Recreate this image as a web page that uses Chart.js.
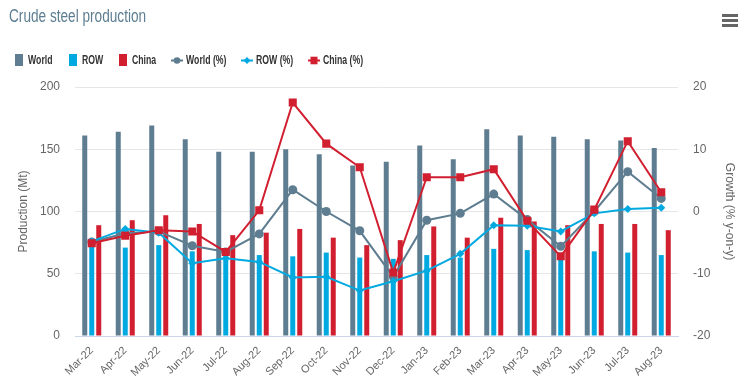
<!DOCTYPE html>
<html><head><meta charset="utf-8">
<script src="https://cdn.jsdelivr.net/npm/chart.js@4.4.0/dist/chart.umd.min.js"></script>
<style>
html,body{margin:0;padding:0;background:#fff;}
#wrap{position:relative;width:752px;height:383px;overflow:hidden;}
#title{position:absolute;left:8.5px;top:7px;line-height:18px;font-size:18px;font-family:"Liberation Sans",Arial,sans-serif;color:#5d7e92;white-space:nowrap;transform:scaleX(0.757);transform-origin:0 0;}
#menu{position:absolute;left:722px;top:14px;width:16px;}
#menu div{height:3px;background:#666;margin-bottom:2px;}
#legend{position:absolute;left:0;top:0;width:752px;height:80px;}
.lg-sym{position:absolute;}
.lg-txt{position:absolute;font:bold 13px "Liberation Sans",Arial,sans-serif;color:#333;white-space:nowrap;transform-origin:0 50%;line-height:14px;}
canvas{position:absolute;left:0;top:0;}
</style></head>
<body><div id="wrap"><canvas id="c" width="752" height="383"></canvas><div id="title">Crude steel production</div><div id="legend"></div><div id="menu"><div></div><div></div><div></div></div></div>
<script>
const categories = ['Mar-22','Apr-22','May-22','Jun-22','Jul-22','Aug-22','Sep-22','Oct-22','Nov-22','Dec-22','Jan-23','Feb-23','Mar-23','Apr-23','May-23','Jun-23','Jul-23','Aug-23'];
const worldMt  = [161,164,169,158,148,148,150,146,137,140,153,142,166,161,160,158,157,151];
const rowMt    = [73,71,73,68,64,65,64,67,63,62,65,63,70,69,66,68,67,65];
const chinaMt  = [89,93,97,90,81,83,86,79,73,77,88,79,95,92,89,90,90,85];
const worldPct = [-4.9,-3.5,-3.2,-5.5,-6.5,-3.6,3.5,0.0,-3.1,-10.5,-1.4,-0.3,2.8,-1.3,-5.6,0.0,6.4,2.1];
const rowPct   = [-4.8,-2.8,-3.4,-8.3,-7.5,-8.1,-10.6,-10.5,-12.7,-11.2,-9.5,-6.8,-2.2,-2.3,-3.2,-0.3,0.4,0.6];
const chinaPct = [-5.1,-3.9,-3.0,-3.2,-6.5,0.2,17.5,10.9,7.1,-9.8,5.5,5.5,6.8,-1.5,-7.2,0.3,11.3,3.1];
const leftTicks = [0,50,100,150,200];
const rightTicks = [-20,-10,0,10,20];

const C_WORLD = '#5e7d90', C_ROW = '#00a9e0', C_CHINA = '#d21f30';
const FONT = '"Liberation Sans", Arial, sans-serif';

const chart = new Chart(document.getElementById('c'), {
  data: {
    labels: categories,
    datasets: [
      {type:'bar', label:'World', data: worldMt, backgroundColor: C_WORLD, yAxisID:'y', order:10},
      {type:'bar', label:'ROW', data: rowMt, backgroundColor: C_ROW, yAxisID:'y', order:11},
      {type:'bar', label:'China', data: chinaMt, backgroundColor: C_CHINA, yAxisID:'y', order:12},
      {type:'line', label:'World (%)', data: worldPct, borderColor: C_WORLD, backgroundColor: C_WORLD, borderWidth:2, pointStyle:'circle', pointRadius:4.5, pointBorderWidth:0, tension:0, yAxisID:'y1', order:3},
      {type:'line', label:'ROW (%)', data: rowPct, borderColor: C_ROW, backgroundColor: C_ROW, borderWidth:2, pointStyle:'rectRot', pointRadius:4, pointBorderWidth:0, tension:0, yAxisID:'y1', order:2},
      {type:'line', label:'China (%)', data: chinaPct, borderColor: C_CHINA, backgroundColor: C_CHINA, borderWidth:2, pointStyle:'rect', pointRadius:5.7, pointBorderWidth:0, tension:0, yAxisID:'y1', order:1}
    ]
  },
  options: {
    responsive:false, animation:false,
    layout:{padding:{left:0,right:0,top:87,bottom:4}},
    datasets:{bar:{categoryPercentage:0.627, barPercentage:0.714, borderWidth:0}},
    plugins:{ title:{display:false}, tooltip:{enabled:false}, legend:{display:false} },
    scales:{
      x:{
        offset:true,
        afterFit(s){ s.height = 43; },
        grid:{display:false, drawTicks:false},
        border:{display:true, color:'#ccd6eb', width:1},
        ticks:{color:'#666', font:{family:FONT, size:11}, maxRotation:45, minRotation:45, padding:8, autoSkip:false}
      },
      y:{
        position:'left', min:0, max:200,
        afterBuildTicks(s){ s.ticks = leftTicks.map(v=>({value:v})); },
        afterFit(s){ s.width = 75; },
        grid:{color:'#e6e6e6', drawTicks:false, lineWidth:1},
        border:{display:false},
        ticks:{color:'#666', font:{family:FONT, size:12}, padding:15},
        title:{display:true, text:'Production (Mt)', color:'#666', font:{family:FONT, size:12}, padding:{top:16,bottom:4}}
      },
      y1:{
        position:'right', min:-20, max:20,
        afterBuildTicks(s){ s.ticks = rightTicks.map(v=>({value:v})); },
        afterFit(s){ s.width = 74; },
        grid:{display:false, drawTicks:false},
        border:{display:false},
        ticks:{color:'#666', font:{family:FONT, size:12}, padding:15},
        title:{display:true, text:'Growth (% y-on-y)', color:'#666', font:{family:FONT, size:12}, padding:{top:15,bottom:4}}
      }
    }
  }
});

// HTML legend built from the chart's datasets
(function buildLegend(){
  const box = document.getElementById('legend');
  const mctx = document.createElement('canvas').getContext('2d');
  mctx.font = 'bold 13px "Liberation Sans", Arial, sans-serif';
  const SCALE = 0.67, CY = 60;
  let x = 14.7;
  chart.data.datasets.forEach((ds, i) => {
    const isBar = ds.type === 'bar';
    const sw = isBar ? 8 : 12, sh = isBar ? 12 : 9;
    const c = document.createElement('canvas');
    c.width = sw; c.height = sh; c.className = 'lg-sym';
    c.style.left = x + 'px'; c.style.top = (CY - sh/2) + 'px';
    const g = c.getContext('2d');
    g.fillStyle = ds.backgroundColor; g.strokeStyle = ds.borderColor || ds.backgroundColor;
    if (isBar) { g.fillRect(0,0,sw,sh); }
    else {
      const cy = sh/2;
      g.lineWidth = 2; g.beginPath(); g.moveTo(0,cy); g.lineTo(sw,cy); g.stroke();
      g.beginPath();
      if (ds.pointStyle === 'circle') g.arc(sw/2, cy, 3.3, 0, Math.PI*2);
      else if (ds.pointStyle === 'rectRot') { g.moveTo(sw/2, cy-3.5); g.lineTo(sw/2+3.5, cy); g.lineTo(sw/2, cy+3.5); g.lineTo(sw/2-3.5, cy); g.closePath(); }
      else g.rect(sw/2-3.5, cy-3.8, 7, 7.6);
      g.fill();
    }
    box.appendChild(c);
    x += sw + (isBar ? 5.3 : 3);
    const t = document.createElement('div');
    t.className = 'lg-txt'; t.textContent = ds.label;
    t.style.left = x + 'px'; t.style.top = (CY - 7) + 'px';
    t.style.transform = 'scaleX(' + SCALE + ')';
    box.appendChild(t);
    x += mctx.measureText(ds.label).width * SCALE;
    const next = chart.data.datasets[i+1];
    x += (next && next.type === 'bar') ? 16 : 14.5;
  });
})();
</script>
</body></html>
